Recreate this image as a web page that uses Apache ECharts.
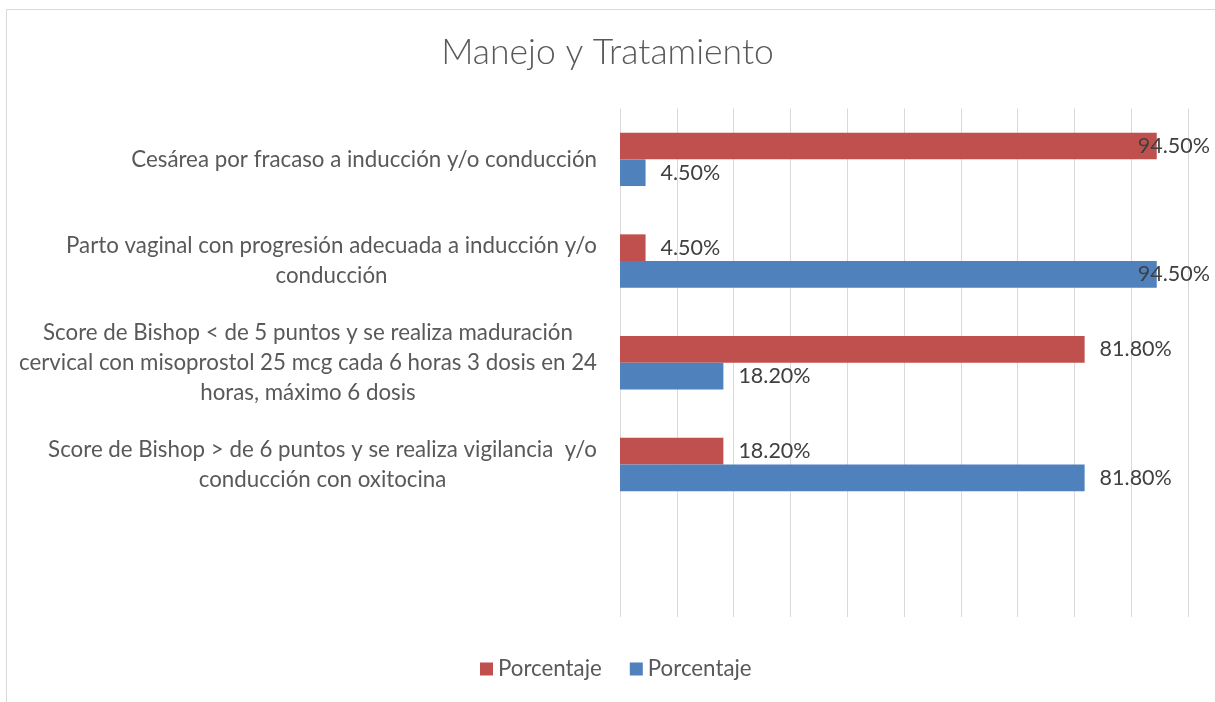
<!DOCTYPE html>
<html>
<head>
<meta charset="utf-8">
<script src="https://cdn.jsdelivr.net/npm/echarts@6/dist/echarts.min.js"></script>
<style>
html,body{margin:0;padding:0;background:#fff;}
#chart{width:1215px;height:702px;}
</style>
</head>
<body>
<div id="chart"></div>
<script>
const titleText = 'Manejo y Tratamiento';
const categories = [
  'Cesárea por fracaso a inducción y/o conducción',
  'Parto vaginal con progresión adecuada a inducción y/o\nconducción',
  'Score de Bishop < de 5 puntos y se realiza maduración\ncervical con misoprostol 25 mcg cada 6 horas 3 dosis en 24\nhoras, máximo 6 dosis',
  'Score de Bishop > de 6 puntos y se realiza vigilancia  y/o\nconducción con oxitocina',
  ''
];
const seriesNames = ['Porcentaje', 'Porcentaje '];
const redValues = [94.5, 4.5, 81.8, 18.2];
const blueValues = [4.5, 94.5, 18.2, 81.8];
const xTicks = {min: 0, max: 100, interval: 10};

const FONT = 'Lato';
const colors = ['#C0504D', '#4F81BD'];

function buildData(vals) {
  return vals.map(v => {
    const item = {value: v};
    if (v > 90) item.label = {offset: [-34, 0]};
    return item;
  });
}

const chart = echarts.init(document.getElementById('chart'));
chart.setOption({
  animation: false,
  backgroundColor: '#ffffff',
  title: {
    text: titleText,
    left: 'center',
    top: 30,
    textStyle: {fontFamily: FONT, fontWeight: 300, fontSize: 35.5, color: '#595959'}
  },
  graphic: [{
    type: 'rect',
    shape: {x: 6.5, y: 9.5, width: 1400, height: 900},
    style: {fill: 'none', stroke: '#d9d9d9', lineWidth: 1},
    silent: true
  }],
  legend: {
    left: 475,
    top: 653,
    itemWidth: 13,
    itemHeight: 13,
    itemGap: 28,
    icon: 'rect',
    textStyle: {fontFamily: FONT, fontSize: 22.3, color: '#595959'},
    formatter: n => n.trim(),
    data: seriesNames
  },
  grid: {left: 620, right: 27, top: 108.5, bottom: 85, containLabel: false},
  xAxis: {
    type: 'value',
    min: xTicks.min, max: xTicks.max, interval: xTicks.interval,
    axisLabel: {show: false},
    axisLine: {show: false},
    axisTick: {show: false},
    splitLine: {show: true, lineStyle: {color: '#d9d9d9', width: 1}}
  },
  yAxis: {
    type: 'category',
    inverse: true,
    data: categories,
    axisLine: {show: false},
    axisTick: {show: false},
    axisLabel: {
      margin: 23,
      fontFamily: FONT,
      fontSize: 22.3,
      color: '#595959',
      lineHeight: 30,
      formatter: v => v.split('\n').map(l => '{c|' + l + '}').join('\n'),
      rich: {c: {align: 'center', fontFamily: FONT, fontSize: 22.3, color: '#595959', lineHeight: 30}}
    }
  },
  series: [0, 1].map(i => ({
    name: seriesNames[i],
    type: 'bar',
    barWidth: 26.7,
    barGap: '0%',
    data: buildData(i === 0 ? redValues : blueValues),
    itemStyle: {color: colors[i]},
    label: {
      show: true,
      position: 'right',
      distance: 15,
      formatter: p => p.value.toFixed(2) + '%',
      fontFamily: FONT,
      fontSize: 21.5,
      color: '#404040'
    }
  }))
});
</script>
</body>
</html>
